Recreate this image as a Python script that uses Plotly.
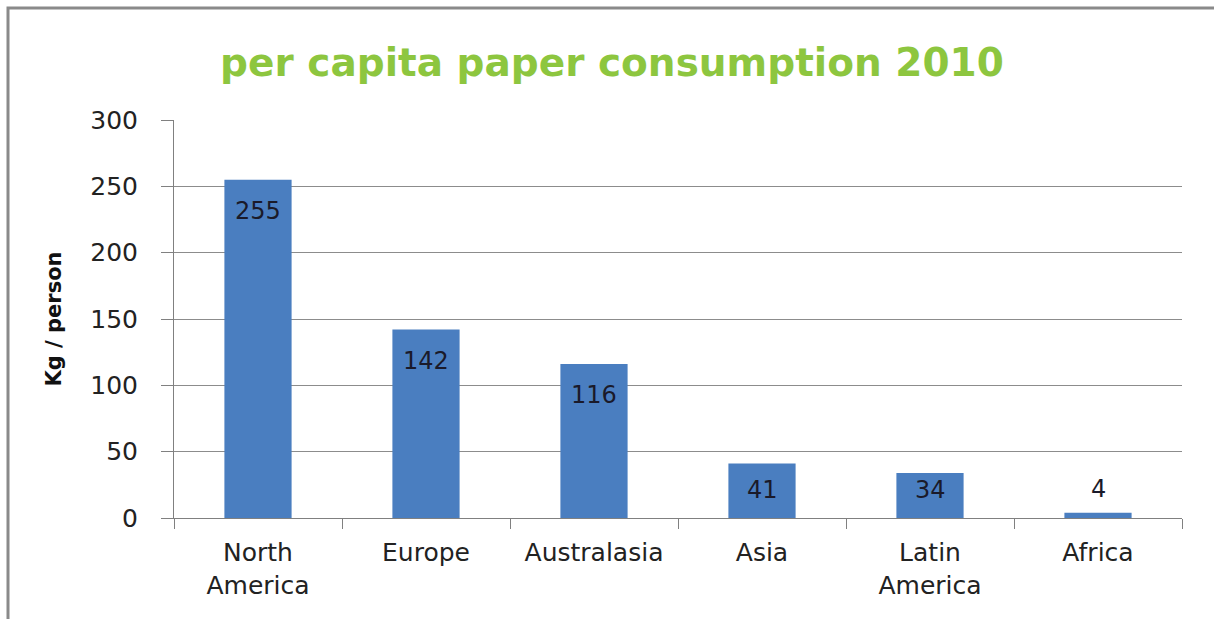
import plotly.graph_objects as go

regions = ["North<br>America", "Europe", "Australasia", "Asia", "Latin<br>America", "Africa"]
kg_per_person = [255, 142, 116, 41, 34, 4]
y_ticks = [0, 50, 100, 150, 200, 250, 300]
y_range = [0, 300]

W, H = 1214, 619
L, R, T, B = 174, 32, 120, 101
pw, ph = W - L - R, H - T - B

FONT = "DejaVu Sans, sans-serif"


def px_x(x):
    return (x - L) / pw


def px_y(y):
    return (H - B - y) / ph


fig = go.Figure(
    go.Bar(
        x=regions,
        y=kg_per_person,
        marker=dict(color="#4a7ec0", line=dict(width=0)),
        hoverinfo="x+y",
    )
)

# value labels: just under the bar top, never lower than a minimum height
# above the axis; above the bar when the bar is too short to hold them
px_per_unit = ph / (y_range[1] - y_range[0])
label_drop = 31      # label centre below the bar top
label_floor = 28     # lowest label centre above the axis
for region, value in zip(regions, kg_per_person):
    bar_px = value * px_per_unit
    if bar_px < 20:
        shift = 24
    else:
        shift = -min(label_drop, bar_px - label_floor)
    fig.add_annotation(
        x=region,
        y=value,
        text=str(value),
        showarrow=False,
        yanchor="middle",
        yshift=shift,
        font=dict(family=FONT, size=24, color="#1a1a2a"),
    )

fig.update_layout(
    width=W,
    height=H,
    margin=dict(l=L, r=R, t=T, b=B, pad=0),
    paper_bgcolor="white",
    plot_bgcolor="white",
    bargap=0.6,
    showlegend=False,
    title=dict(
        text="<b>per capita paper consumption 2010</b>",
        x=px_x(612),
        xanchor="center",
        xref="paper",
        y=1 - 62 / H,
        yanchor="middle",
        font=dict(family=FONT, size=39, color="#8dc63f"),
    ),
    font=dict(family=FONT, color="#222222"),
)

fig.update_xaxes(
    showline=True,
    linecolor="#808080",
    linewidth=1,
    ticks="outside",
    tickson="boundaries",
    ticklen=10,
    tickcolor="#808080",
    ticklabelstandoff=12,
    tickfont=dict(family=FONT, size=25, color="#222222"),
    showgrid=False,
)

fig.update_yaxes(
    range=y_range,
    tickvals=y_ticks,
    showline=True,
    linecolor="#808080",
    linewidth=1,
    ticks="outside",
    ticklen=12,
    tickcolor="#808080",
    ticklabelstandoff=18,
    tickfont=dict(family=FONT, size=25, color="#222222"),
    showgrid=True,
    gridcolor="#8c8c8c",
    gridwidth=1,
    zeroline=False,
    title=dict(
        text="<b>Kg / person</b>",
        font=dict(family=FONT, size=21, color="#111111"),
        standoff=22,
    ),
)

# outer frame of the chart
fig.add_shape(
    type="rect",
    xref="paper",
    yref="paper",
    x0=px_x(8),
    x1=px_x(1217),
    y0=px_y(625),
    y1=px_y(8),
    line=dict(color="#8a8a8a", width=3),
    fillcolor="rgba(0,0,0,0)",
    layer="below",
)

fig.write_html("out.html")
